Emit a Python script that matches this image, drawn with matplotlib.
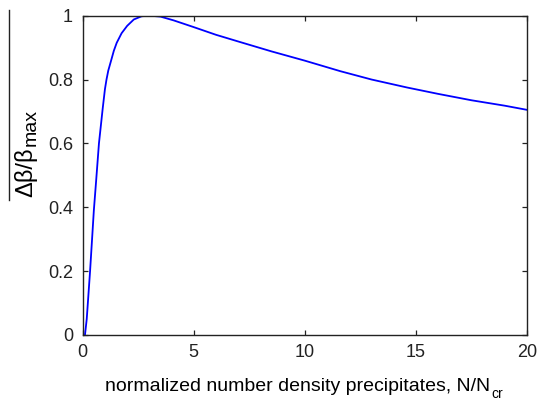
import matplotlib
matplotlib.use('Agg')
import matplotlib.pyplot as plt
from matplotlib.lines import Line2D

plt.rcParams['font.family'] = ['Liberation Sans', 'DejaVu Sans']

# values
n_ratio = [0.1, 0.18, 0.25, 0.33, 0.42, 0.5, 0.6, 0.73, 0.9, 1.0, 1.07, 1.15,
           1.3, 1.4, 1.53, 1.75, 2.0, 2.3, 2.65, 3.0, 3.5, 4.1, 5.0, 6.0, 7.1,
           8.5, 10.0, 11.6, 13.0, 14.6, 16.0, 17.5, 19.0, 20.0]
dbeta = [0.0, 0.05, 0.12, 0.2, 0.3, 0.39, 0.48, 0.6, 0.71, 0.77, 0.8, 0.828,
         0.865, 0.89, 0.915, 0.945, 0.968, 0.988, 0.998, 1.0, 0.997, 0.985,
         0.964, 0.94, 0.917, 0.888, 0.859, 0.826, 0.8, 0.775, 0.755, 0.735,
         0.718, 0.705]
xticks = [0, 5, 10, 15, 20]
yticks = [0, 0.2, 0.4, 0.6, 0.8, 1]
ylabels = ['0', '0.2', '0.4', '0.6', '0.8', '1']

W, H = 539, 401
fig = plt.figure(figsize=(W / 100, H / 100), dpi=100)
ax = fig.add_axes([0.1535, 0.1646, 0.8242, 0.7964])
ax.plot(n_ratio, dbeta, color='#0000ff', lw=1.3)

ax.set_xlim(0, 20)
ax.set_ylim(0, 1)
ax.set_xticks(xticks)
ax.set_xticklabels([str(t) for t in xticks])
ax.set_yticks(yticks)
ax.set_yticklabels(ylabels)
ax.tick_params(direction='in', length=3.5, width=0.9, top=True, right=True,
               labelsize=13, colors='#222222')
ax.tick_params(axis='x', pad=6.5)
ax.tick_params(axis='y', pad=7)
for s in ax.spines.values():
    s.set_linewidth(1.0)
    s.set_color('#222222')

r = fig.canvas.get_renderer()
inv = fig.transFigure.inverted()

# x label with subscript
xl = fig.text(105 / W, 1 - 391 / H, 'normalized number density precipitates, N/N',
              ha='left', va='baseline', fontsize=14)
bb = xl.get_window_extent(r)
x1 = inv.transform((bb.x1 + 1, 0))[0]
fig.text(x1, 1 - 398.5 / H, 'cr', ha='left', va='baseline', fontsize=10)

# y label with subscript, plus the long bar over it
yl = fig.text(26 / W, 1 - 197 / H, 'Δβ/β', ha='center', va='bottom',
              rotation=90, fontsize=17)
bb = yl.get_window_extent(r)
sx, sy = inv.transform((bb.x1 + 2, bb.y1 + 2))
fig.text(sx, sy, 'max', ha='right', va='bottom', rotation=90, fontsize=14)
fig.add_artist(Line2D([8.5 / W, 8.5 / W], [1 - 10 / H, 1 - 200 / H],
                      transform=fig.transFigure, color='#222222', lw=1.0))

fig.savefig('out.png', dpi=100)
